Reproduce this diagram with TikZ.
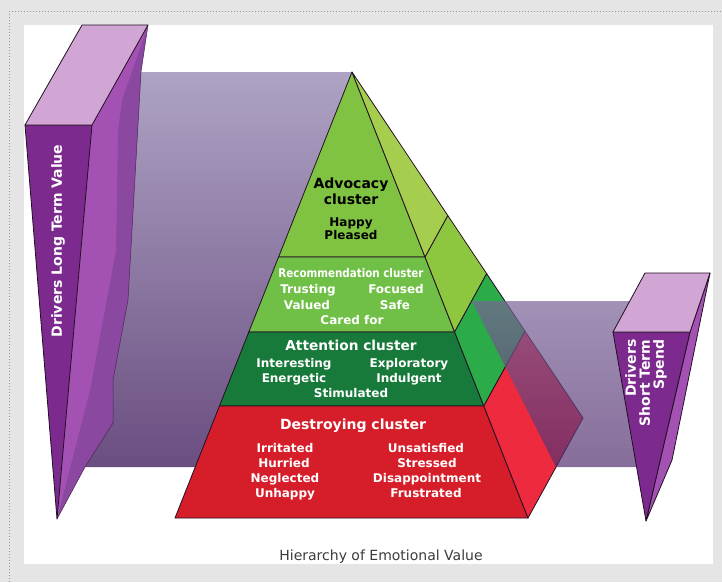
\documentclass[tikz,border=0pt]{standalone}
\usepackage{fontspec}
\setmainfont{DejaVu Sans}
\usepackage{graphicx}
\usetikzlibrary{calc}

% page and frame
\definecolor{pagegray}{RGB}{229,229,229}
\definecolor{dotgray}{RGB}{150,150,150}
\definecolor{edgecol}{RGB}{35,15,35}
\definecolor{captioncol}{RGB}{60,60,60}
% purple bars and bands
\definecolor{bartop}{RGB}{210,166,212}
\definecolor{barfront}{RGB}{124,42,142}
\definecolor{barsidel}{RGB}{163,82,180}
\definecolor{barsidem}{RGB}{138,72,160}
\definecolor{bandtop}{RGB}{174,163,196}
\definecolor{bandbot}{RGB}{106,78,128}
\definecolor{ovtop}{RGB}{122,100,152}
\definecolor{ovbot}{RGB}{84,48,112}
% pyramid tiers (front / side)
\definecolor{advF}{RGB}{128,195,66}
\definecolor{advS}{RGB}{166,206,78}
\definecolor{recF}{RGB}{112,191,70}
\definecolor{recS}{RGB}{141,198,63}
\definecolor{attF}{RGB}{24,122,58}
\definecolor{attS}{RGB}{44,172,72}
\definecolor{desF}{RGB}{214,30,42}
\definecolor{desS}{RGB}{238,42,62}

\begin{document}
\begin{tikzpicture}[x=1pt,y=-1pt,
  edge/.style={draw=edgecol, line width=0.8pt, line join=round},
  softedge/.style={draw=edgecol!60!barsidem, line width=0.5pt, line join=round},
  frameline/.style={draw=dotgray, line width=0.8pt, dash pattern=on 1pt off 2pt},
  head/.style={font=\fontsize{14}{16}\selectfont\bfseries, anchor=base, inner sep=0pt},
  word/.style={font=\fontsize{12}{14}\selectfont\bfseries, anchor=base, inner sep=0pt, text=white},
  bartext/.style={font=\fontsize{14}{14}\selectfont\bfseries, text=white, rotate=90, inner sep=0pt},
]
\useasboundingbox (0,0) rectangle (722,582);
\fill[pagegray] (0,0) rectangle (722,582);
\draw[frameline] (9,11) -- (722,11);
\draw[frameline] (9,11) -- (9,582);
\fill[white] (24,25) rectangle (713,564);

% band running from the long-term bar behind the pyramid
\shade[top color=bandtop, bottom color=bandbot]
  (125,72) -- (352,72) -- (352,467) -- (85,467) -- (106,430) -- (106,380)
  -- (118,300) -- cycle;

% long-term bar
\coordinate (LT1) at (25,125);
\coordinate (LT2) at (82,25);
\coordinate (LT3) at (148,25);
\coordinate (LT4) at (92,125);
\coordinate (LTip) at (57,519);
\path[fill=barsidem] (LT3) -- (141,72) -- (128,300) -- (113,380) -- (113,423)
  -- (85,467) -- (LTip) -- (LT4) -- cycle;
\path[fill=barsidel] (LT4) -- (LT3) -- (122,100) -- (118,130) -- (116,250)
  -- (90,390) -- (LTip) -- cycle;
\path[softedge] (LT3) -- (141,72) -- (128,300) -- (113,380) -- (113,423)
  -- (85,467) -- (LTip);
\path[fill=barfront, edge] (LT1) -- (LT4) -- (LTip) -- cycle;
\path[fill=bartop, edge] (LT1) -- (LT2) -- (LT3) -- (LT4) -- cycle;
\node[bartext] (ltv) at (58,241) {Drivers Long Term Value};

% pyramid corners
\coordinate (A)  at (352,72);
\coordinate (FL) at (175,518);
\coordinate (FR) at (528,518);
\coordinate (BR) at (583,418);
\foreach \i/\f in {1/0.415, 2/0.583, 3/0.749} {
  \coordinate (L\i) at ($(A)!\f!(FL)$);
  \coordinate (R\i) at ($(A)!\f!(FR)$);
  \coordinate (B\i) at ($(A)!\f!(BR)$);
}
% front faces
\path[fill=advF, edge] (A) -- (L1) -- (R1) -- cycle;
\path[fill=recF, edge] (L1) -- (L2) -- (R2) -- (R1) -- cycle;
\path[fill=attF, edge] (L2) -- (L3) -- (R3) -- (R2) -- cycle;
\path[fill=desF, edge] (L3) -- (FL) -- (FR) -- (R3) -- cycle;
% side faces
\path[fill=advS, edge] (A) -- (R1) -- (B1) -- cycle;
\path[fill=recS, edge] (R1) -- (R2) -- (B2) -- (B1) -- cycle;
\path[fill=attS, edge] (R2) -- (R3) -- (B3) -- (B2) -- cycle;
\path[fill=desS, edge] (R3) -- (FR) -- (BR) -- (B3) -- cycle;

% advocacy tier
\node[head] (adv1) at (351,188) {Advocacy};
\node[head] (adv2) at (351,204) {cluster};
\node[word, text=black] (happy) at (351,226) {Happy};
\node[word, text=black] (pleased) at (351,239) {Pleased};
% recommendation tier
\node[word] (rec) at (351,277) {\scalebox{0.86}[1]{Recommendation cluster}};
\node[word] (trusting) at (308,293) {Trusting};
\node[word] (focused) at (396,293) {Focused};
\node[word] (valued) at (307,309) {Valued};
\node[word] (safe) at (395,309) {Safe};
\node[word] (cared) at (352,324) {Cared for};
% attention tier
\node[head, text=white, font=\fontsize{13.7}{16}\selectfont\bfseries] (att) at (351,350) {Attention cluster};
\node[word] (interesting) at (294,367) {Interesting};
\node[word] (exploratory) at (409,367) {Exploratory};
\node[word] (energetic) at (294,382) {Energetic};
\node[word] (indulgent) at (409,382) {Indulgent};
\node[word] (stimulated) at (351,397) {Stimulated};
% destroying tier
\node[head, text=white] (des) at (353,429) {Destroying cluster};
\node[word] (irritated) at (285,452) {Irritated};
\node[word] (unsatisfied) at (426,452) {Unsatisfied};
\node[word] (hurried) at (284,467) {Hurried};
\node[word] (stressed) at (427,467) {Stressed};
\node[word] (neglected) at (285,482) {Neglected};
\node[word] (disappointment) at (427,482) {Disappointment};
\node[word] (unhappy) at (285,497) {Unhappy};
\node[word] (frustrated) at (426,497) {Frustrated};

% band passing in front of the pyramid side towards the short-term bar
\shade[top color=ovtop, bottom color=ovbot, fill opacity=0.7]
  (472,301) -- (640,301) -- (640,467) -- (556,467) -- cycle;

% short-term bar
\coordinate (ST1) at (613,332);
\coordinate (ST2) at (645,273);
\coordinate (ST3) at (710,273);
\coordinate (ST4) at (690,332);
\coordinate (STip) at (646,521);
\path[fill=barsidel, edge] (ST4) -- (ST3) -- (672,460) -- (STip) -- cycle;
\path[fill=barfront, edge] (ST1) -- (ST4) -- (STip) -- cycle;
\path[fill=bartop, edge] (ST1) -- (ST2) -- (ST3) -- (ST4) -- cycle;
\node[bartext, align=right] (sts) at (646,383) {Drivers\\Short Term\\Spend};

% caption
\node[font=\fontsize{14}{16}\selectfont, text=captioncol, anchor=base] (caption) at (381,560)
  {Hierarchy of Emotional Value};
\end{tikzpicture}
\end{document}
